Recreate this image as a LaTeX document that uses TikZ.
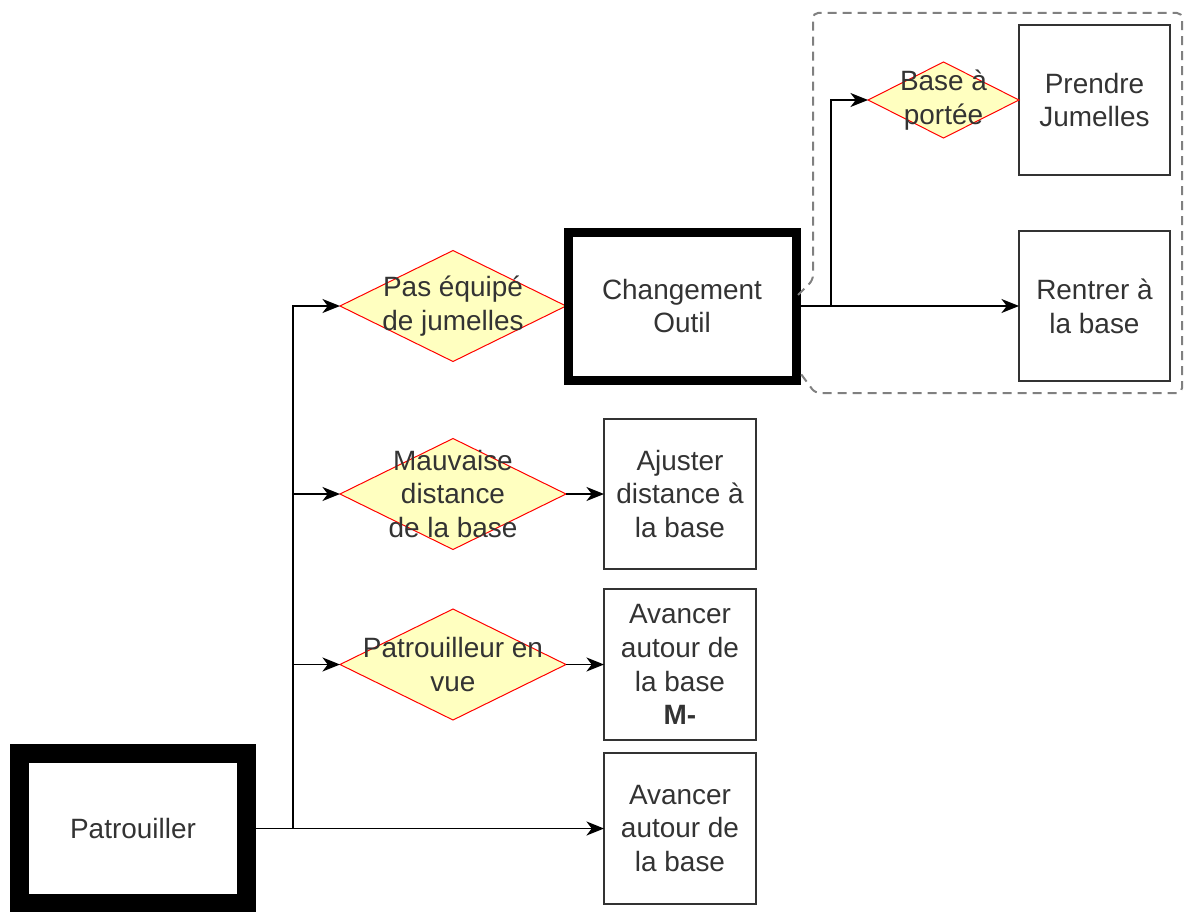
\documentclass[tikz,border=0pt]{standalone}
\usepackage{fontspec}
\setmainfont{Liberation Sans}
\usetikzlibrary{positioning,shapes,arrows.meta,calc}

\definecolor{boxgray}{HTML}{333333}
\definecolor{decfill}{HTML}{FFFFC0}

\begin{document}
\begin{tikzpicture}[
  node distance=0.76cm and 0.76cm,
  every node/.style={text=boxgray,font=\fontsize{15.9pt}{19.3pt}\selectfont,align=center,outer sep=0pt},
  mybox/.style={draw=boxgray,line width=0.03cm,rectangle,minimum width=3.04cm,minimum height=3cm,inner sep=0pt},
  mythick/.style={draw=black,rectangle,inner sep=0pt},
  mydec/.style={draw=red,fill=decfill,line width=0.02cm,diamond,inner sep=-1cm,minimum width=4.52cm,minimum height=2.22cm},
  myarrow/.style={draw=black,line width=0.03cm,-{Stealth[length=10pt,width=8pt,inset=3pt]}},
  mygroup/.style={draw=gray,line width=0.04cm,dash pattern=on 0.18cm off 0.12cm,rounded corners=0.1cm},
]
\useasboundingbox (0,0) rectangle (23.68,-18.22);

\node[mythick,line width=0.38cm,minimum width=4.54cm,minimum height=3cm] (pat) at (2.66,-16.57) {Patrouiller};

\node[mybox,minimum height=3.02cm,right=7.15cm of pat] (av) {Avancer\\autour de\\la base};
\node[mybox,minimum height=3.02cm,above=0.26cm of av] (avm) {Avancer\\autour de\\la base\\\textbf{M-}};
\node[mybox,above=0.4cm of avm] (ajust) {Ajuster\\distance à\\la base};

\node[mydec,left=of avm] (vue) {Patrouilleur en\\vue};
\node[mydec,left=of ajust] (mauv) {Mauvaise\\distance\\de la base};
\node[mydec,above=1.54cm of mauv] (pas) {Pas équipé\\de jumelles};

\node[mythick,line width=0.18cm,minimum width=4.56cm,minimum height=2.96cm,right=0.04cm of pas] (chg) {Changement\\Outil};

\node[mybox,minimum width=3.02cm,right=4.46cm of chg] (rentrer) {Rentrer à\\la base};
\node[mybox,minimum width=3.02cm,above=1.12cm of rentrer] (prendre) {Prendre\\Jumelles};
\node[mydec,minimum width=3.02cm,minimum height=1.52cm,left=0cm of prendre] (base) {Base à\\portée};

% dashed group round the tool change
\coordinate (gtr) at ($(prendre.north east)+(0.24,0.24)$);
\coordinate (gbr) at ($(rentrer.south east)+(0.24,-0.24)$);
\coordinate (gl) at ($(chg.east)+(0.34,0)$);
\coordinate (gb) at ($(chg.east)+(0.38,0)$);
\draw[mygroup] ($(chg.east)+(0.04,0.22)$) -- ($(chg.east)+(0.34,0.52)$) -- (gl |- gtr) -- (gtr) -- (gbr) -- (gb |- gbr) -- ($(chg.east)+(0.04,-1.28)$);

% connectors
\coordinate (trunk) at ($(pat.east)+(0.93,0)$);
\coordinate (fork) at ($(chg.east)+(0.7,0)$);
\draw[myarrow] (pat.east) -- (trunk) |- (pas.west);
\draw[myarrow] (trunk) |- (mauv.west);
\draw[myarrow] (trunk) |- (vue.west);
\draw[myarrow] (chg.east) -- (fork) |- (base.west);

\path (pat.east) edge[myarrow] (av.west)
(mauv) edge[myarrow] (ajust)
(vue) edge[myarrow] (avm)
(chg) edge[myarrow] (rentrer);
\end{tikzpicture}
\end{document}
